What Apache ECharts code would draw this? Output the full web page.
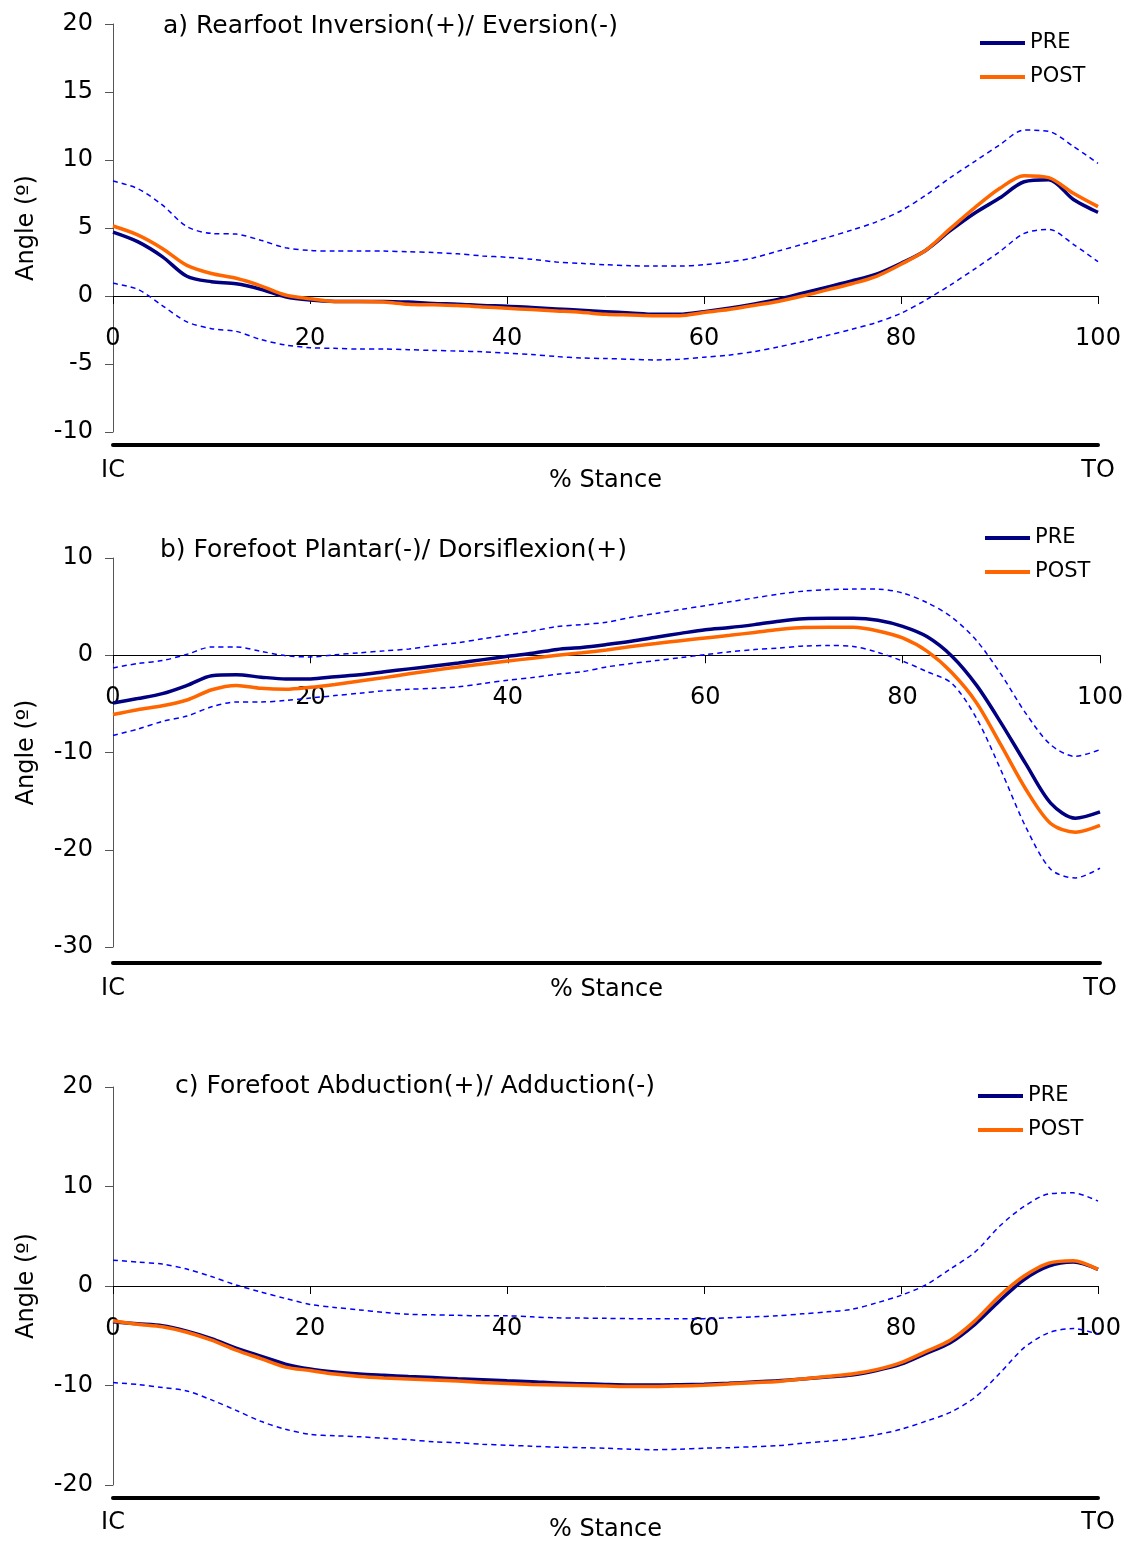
<!DOCTYPE html>
<html>
<head>
<meta charset="utf-8">
<script src="https://cdn.jsdelivr.net/npm/echarts@6/dist/echarts.min.js"></script>
<style>
  html, body { margin: 0; padding: 0; background: #fff; }
  #chart { width: 1128px; height: 1541px; }
</style>
</head>
<body>
<div id="chart"></div>
<script>
// % stance sample points
const stance = [0, 2.5, 5, 7.5, 10, 12.5, 15, 17.5, 20, 22.5, 25, 27.5, 30, 32.5, 35, 37.5, 40, 42.5, 45, 47.5, 50,
  52.5, 55, 57.5, 60, 62.5, 65, 67.5, 70, 72.5, 75, 77.5, 80, 82.5, 85, 87.5, 90, 92.5, 95, 97.5, 100];

// a) rearfoot inversion / eversion
const aPre = [4.7, 4.0, 2.9, 1.45, 1.05, 0.9, 0.5, -0.05, -0.3, -0.4, -0.4, -0.4, -0.45, -0.55, -0.6, -0.7, -0.75, -0.85, -0.95, -1.05, -1.15,
  -1.25, -1.35, -1.35, -1.15, -0.9, -0.6, -0.25, 0.2, 0.65, 1.1, 1.6, 2.4, 3.35, 4.8, 6.1, 7.2, 8.4, 8.55, 7.1, 6.15];
const aPost = [5.15, 4.5, 3.5, 2.25, 1.65, 1.3, 0.75, 0.07, -0.2, -0.4, -0.4, -0.45, -0.6, -0.65, -0.7, -0.8, -0.9, -1.0, -1.1, -1.2, -1.35,
  -1.4, -1.45, -1.45, -1.22, -1.0, -0.7, -0.4, 0.0, 0.45, 0.9, 1.45, 2.33, 3.35, 4.95, 6.5, 7.9, 8.85, 8.7, 7.55, 6.57];
const aUpper = [8.45, 7.9, 6.7, 5.1, 4.6, 4.55, 4.1, 3.55, 3.35, 3.3, 3.3, 3.3, 3.25, 3.2, 3.1, 2.95, 2.85, 2.7, 2.5, 2.4, 2.3,
  2.23, 2.2, 2.2, 2.3, 2.5, 2.8, 3.3, 3.8, 4.3, 4.85, 5.45, 6.27, 7.4, 8.7, 9.9, 11.1, 12.2, 12.1, 11.0, 9.75];
const aLower = [0.93, 0.5, -0.7, -1.9, -2.4, -2.6, -3.2, -3.6, -3.8, -3.85, -3.9, -3.9, -3.95, -4.0, -4.05, -4.1, -4.2, -4.3, -4.45, -4.55, -4.6,
  -4.65, -4.7, -4.65, -4.5, -4.35, -4.1, -3.75, -3.35, -2.9, -2.45, -1.95, -1.27, -0.3, 0.8, 2.0, 3.25, 4.6, 4.9, 3.8, 2.52];

// b) forefoot plantar / dorsiflexion
const bPre = [-4.9, -4.45, -3.95, -3.1, -2.1, -2.0, -2.25, -2.43, -2.43, -2.2, -2.0, -1.7, -1.4, -1.1, -0.8, -0.45, -0.1, 0.2, 0.6, 0.8, 1.1,
  1.44, 1.85, 2.25, 2.63, 2.85, 3.15, 3.5, 3.75, 3.8, 3.8, 3.6, 2.97, 1.9, -0.1, -3.1, -7.0, -11.2, -15.2, -16.75, -16.1];
const bPost = [-6.1, -5.6, -5.2, -4.6, -3.55, -3.1, -3.4, -3.5, -3.3, -3.0, -2.65, -2.3, -1.9, -1.55, -1.2, -0.9, -0.6, -0.3, 0.0, 0.25, 0.55,
  0.9, 1.2, 1.5, 1.78, 2.05, 2.35, 2.65, 2.85, 2.87, 2.87, 2.5, 1.78, 0.4, -1.8, -4.9, -9.3, -13.8, -17.3, -18.2, -17.5];
const bUpper = [-1.3, -0.85, -0.55, 0.1, 0.85, 0.85, 0.4, -0.05, -0.17, 0.05, 0.25, 0.45, 0.65, 1.0, 1.3, 1.7, 2.1, 2.5, 2.95, 3.15, 3.4,
  3.9, 4.3, 4.7, 5.1, 5.5, 5.9, 6.3, 6.6, 6.75, 6.8, 6.8, 6.4, 5.4, 3.9, 1.5, -2.0, -6.0, -9.2, -10.4, -9.7];
const bLower = [-8.25, -7.6, -6.8, -6.25, -5.3, -4.8, -4.8, -4.65, -4.4, -4.15, -3.9, -3.65, -3.5, -3.4, -3.25, -2.9, -2.56, -2.3, -1.95, -1.7, -1.2,
  -0.85, -0.55, -0.25, 0.07, 0.35, 0.58, 0.75, 0.95, 1.0, 0.9, 0.3, -0.6, -1.7, -2.9, -6.5, -11.9, -17.7, -22.0, -22.9, -21.9];

// c) forefoot abduction / adduction
const cPre = [-3.6, -3.8, -4.0, -4.55, -5.3, -6.25, -7.05, -7.85, -8.35, -8.65, -8.85, -8.98, -9.1, -9.2, -9.33, -9.43, -9.53, -9.62, -9.75, -9.82, -9.9,
  -9.95, -9.95, -9.92, -9.87, -9.78, -9.65, -9.53, -9.35, -9.15, -8.95, -8.5, -7.86, -6.8, -5.7, -3.85, -1.5, 0.65, 2.0, 2.4, 1.67];
const cPost = [-3.5, -3.85, -4.1, -4.65, -5.45, -6.45, -7.3, -8.15, -8.5, -8.85, -9.1, -9.25, -9.35, -9.45, -9.55, -9.7, -9.8, -9.9, -9.95, -10.0, -10.05,
  -10.1, -10.1, -10.05, -9.97, -9.85, -9.72, -9.6, -9.35, -9.1, -8.85, -8.4, -7.7, -6.6, -5.45, -3.5, -1.0, 1.0, 2.3, 2.55, 1.67];
const cUpper = [2.6, 2.4, 2.2, 1.7, 0.95, 0.1, -0.6, -1.25, -1.85, -2.15, -2.4, -2.65, -2.84, -2.9, -2.95, -3.0, -3.0, -3.1, -3.2, -3.22, -3.25,
  -3.28, -3.3, -3.3, -3.28, -3.2, -3.1, -3.0, -2.8, -2.6, -2.35, -1.7, -0.94, 0.1, 1.7, 3.4, 6.0, 8.0, 9.25, 9.36, 8.53];
const cLower = [-9.7, -9.9, -10.2, -10.55, -11.45, -12.5, -13.6, -14.4, -14.9, -15.05, -15.15, -15.3, -15.45, -15.65, -15.75, -15.9, -16.0, -16.1, -16.2, -16.25, -16.3,
  -16.4, -16.45, -16.4, -16.3, -16.25, -16.15, -16.05, -15.8, -15.6, -15.35, -14.95, -14.4, -13.6, -12.7, -11.2, -8.8, -6.2, -4.7, -4.28, -4.85];

const titles = [
  "a) Rearfoot Inversion(+)/ Eversion(-)",
  "b) Forefoot Plantar(-)/ Dorsiflexion(+)",
  "c) Forefoot Abduction(+)/ Adduction(-)"
];

const FONT = "DejaVu Sans, Verdana, sans-serif";
const panels = [
  { pre: aPre, post: aPost, up: aUpper, low: aLower, min: -10, max: 20, step: 5,
    grid: { left: 113, top: 24, width: 985, height: 408 }, barY: 445, stanceGap: 24,
    title: { left: 163, top: 14 }, legend: { left: 980, top: 31 } },
  { pre: bPre, post: bPost, up: bUpper, low: bLower, min: -30, max: 10, step: 10,
    grid: { left: 113, top: 558, width: 987, height: 389 }, barY: 963, stanceGap: 15,
    title: { left: 160, top: 538 }, legend: { left: 985, top: 526 } },
  { pre: cPre, post: cPost, up: cUpper, low: cLower, min: -20, max: 20, step: 10,
    grid: { left: 113, top: 1087, width: 985, height: 398 }, barY: 1498, stanceGap: 21,
    title: { left: 175, top: 1074 }, legend: { left: 978, top: 1084 } }
];

const pairs = (ys) => stance.map((x, i) => [x, ys[i]]);

const chart = echarts.init(document.getElementById("chart"), null, { renderer: "canvas" });

const option = {
  backgroundColor: "#fff",
  animation: false,
  textStyle: { fontFamily: FONT, color: "#000" },
  title: [],
  legend: [],
  grid: [],
  xAxis: [],
  yAxis: [],
  series: []
};

panels.forEach((p, k) => {
  const main = k * 2, bar = k * 2 + 1;
  option.grid.push(p.grid);
  // thin strip holding the IC -> TO bar
  option.grid.push({ left: p.grid.left, width: p.grid.width, top: p.barY - 1, height: 1 });

  option.title.push({
    text: titles[k], left: p.title.left, top: p.title.top, padding: 0,
    textStyle: { fontFamily: FONT, fontSize: 25, fontWeight: "normal", color: "#000" }
  });
  option.legend.push({
    data: ["PRE", "POST"], orient: "vertical", left: p.legend.left, top: p.legend.top,
    padding: 0, itemGap: 10, itemWidth: 45, itemHeight: 4, icon: "rect",
    textStyle: { fontFamily: FONT, fontSize: 21, color: "#000", padding: [0, 0, 0, 0], lineHeight: 24 }
  });

  // stance axis drawn along the zero line: shift it up from the grid bottom by the height of (0 - min)
  const zeroShift = -p.grid.height * (0 - p.min) / (p.max - p.min);
  option.xAxis.push({
    type: "value", gridIndex: main, min: 0, max: 100, interval: 20,
    position: "bottom", offset: zeroShift,
    axisLine: { onZero: false, lineStyle: { color: "#000", width: 1 } },
    axisTick: { show: true, length: 8, lineStyle: { color: "#000" } },
    axisLabel: { fontFamily: FONT, fontSize: 24, color: "#000", margin: 31 },
    splitLine: { show: false }
  });
  option.yAxis.push({
    type: "value", gridIndex: main, min: p.min, max: p.max, interval: p.step,
    name: "Angle (º)", nameLocation: "middle", nameGap: 74, nameMoveOverlap: false,
    nameTextStyle: { fontFamily: FONT, fontSize: 24, color: "#000" },
    axisLine: { show: true, lineStyle: { color: "#555", width: 1 } },
    axisTick: { show: true, length: 8, lineStyle: { color: "#555" } },
    axisLabel: { fontFamily: FONT, fontSize: 24, color: "#000", margin: 20 },
    splitLine: { show: false }
  });

  // IC / TO bar with "% Stance"
  option.xAxis.push({
    type: "value", gridIndex: bar, min: 0, max: 100, interval: 100, position: "bottom",
    axisLine: { onZero: false, lineStyle: { color: "#000", width: 4 } },
    axisTick: { show: false },
    axisLabel: { fontFamily: FONT, fontSize: 24, color: "#000", margin: 14,
      formatter: (v) => v === 0 ? "IC" : v === 100 ? "TO" : "" },
    name: "% Stance", nameLocation: "middle", nameGap: p.stanceGap, nameMoveOverlap: false,
    nameTextStyle: { fontFamily: FONT, fontSize: 24, color: "#000", verticalAlign: "top" },
    splitLine: { show: false }
  });
  option.yAxis.push({
    type: "value", gridIndex: bar, min: 0, max: 1, show: false
  });

  const sd = (name, ys) => ({
    name, type: "line", xAxisIndex: main, yAxisIndex: main, data: pairs(ys),
    showSymbol: false, smooth: 0.3, silent: true,
    lineStyle: { color: "#0000ff", width: 1.5, type: [5, 4] }
  });
  option.series.push(sd("SD+", p.up));
  option.series.push(sd("SD-", p.low));
  option.series.push({
    name: "PRE", type: "line", xAxisIndex: main, yAxisIndex: main, data: pairs(p.pre),
    showSymbol: false, smooth: 0.3, itemStyle: { color: "#000080" },
    lineStyle: { color: "#000080", width: 3.5 }
  });
  option.series.push({
    name: "POST", type: "line", xAxisIndex: main, yAxisIndex: main, data: pairs(p.post),
    showSymbol: false, smooth: 0.3, itemStyle: { color: "#ff6600" },
    lineStyle: { color: "#ff6600", width: 3.5 }
  });
});

chart.setOption(option);
</script>
</body>
</html>
